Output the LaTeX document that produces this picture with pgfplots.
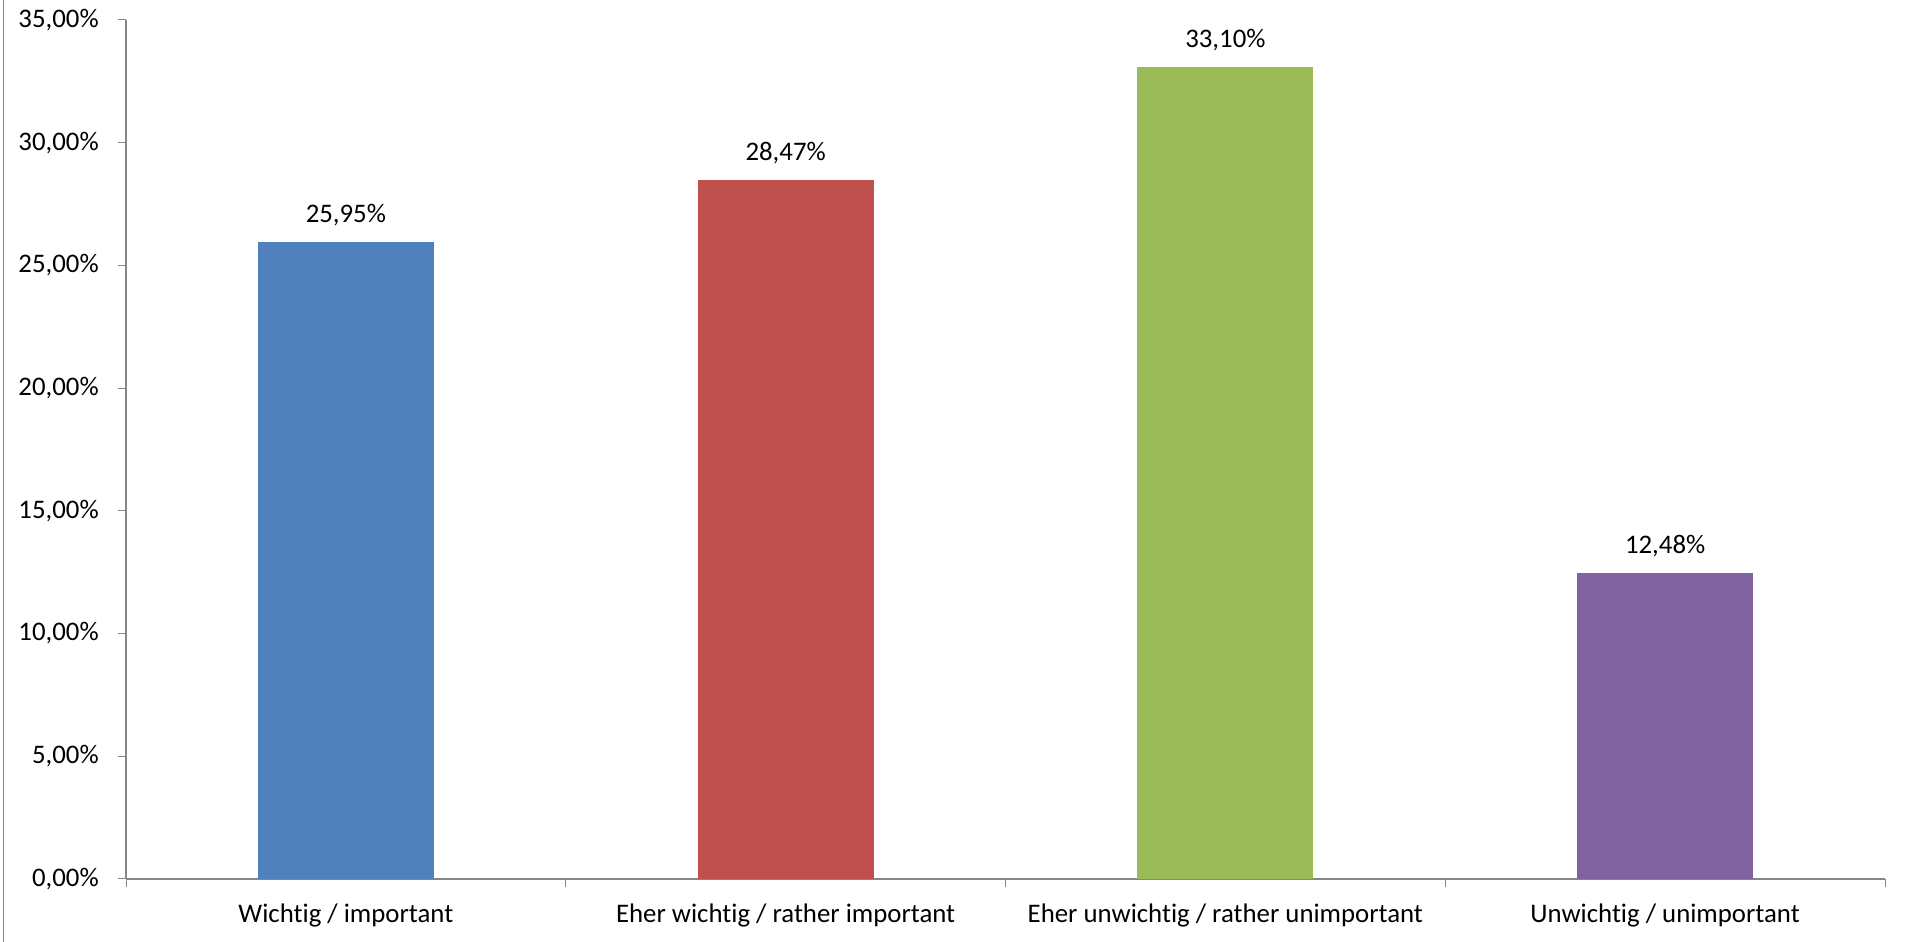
\documentclass[border=0pt]{standalone}
\usepackage{pgfplots}
\pgfplotsset{compat=1.18}
\usepackage{fontspec}
\setmainfont[RawFeature={-liga;-calt;-clig;-dlig}]{Carlito}
\definecolor{cA}{HTML}{4F81BD}
\definecolor{cB}{HTML}{C0504D}
\definecolor{cC}{HTML}{9BBB59}
\definecolor{cD}{HTML}{8064A2}
\definecolor{axisgray}{HTML}{868686}
\begin{document}
\fontsize{13.4pt}{15pt}\selectfont
\begin{tikzpicture}
\useasboundingbox (0,0) rectangle (956.5pt,471pt);
\draw[axisgray, line width=0.7pt] (1.6pt,0) -- (1.6pt,471pt);
\begin{axis}[
  at={(63pt,31.5pt)}, anchor=south west,
  scale only axis, width=879.5pt, height=429.5pt,
  xmin=-0.5, xmax=3.5, ymin=0, ymax=35,
  axis x line*=bottom, axis y line*=left,
  x axis line style={-}, y axis line style={-},
  axis line style={axisgray, line width=0.6pt},
  ybar, bar width=88pt, bar shift=0pt,
  ytick={0,5,...,35},
  yticklabels={{0,00\%},{5,00\%},{10,00\%},{15,00\%},{20,00\%},{25,00\%},{30,00\%},{35,00\%}},
  xtick={0,1,2,3},
  xticklabels={Wichtig / important, Eher wichtig / rather important, Eher unwichtig / rather unimportant, Unwichtig / unimportant},
  minor xtick={-0.5,0.5,1.5,2.5,3.5},
  tick align=outside, major tick length=4pt, minor tick length=4pt,
  major x tick style={draw=none},
  tick style={axisgray, line width=0.5pt},
  minor x tick style={axisgray, line width=0.5pt},
  ticklabel style={font=\fontsize{13.4pt}{15pt}\selectfont, text=black},
  xticklabel style={yshift=-3.7pt},
  yticklabel style={xshift=-5pt},
  /pgf/number format/assume math mode=true,
  nodes near coords={\pgfmathprintnumber[fixed,fixed zerofill,precision=2,use comma]{\pgfplotspointmeta}\%},
  every node near coord/.append style={font=\fontsize{13.4pt}{15pt}\selectfont, text=black, anchor=base, yshift=9.7pt, inner sep=0pt},
  point meta=y,
]
\addplot[draw=none, fill=cA] coordinates {(0,25.95)};
\addplot[draw=none, fill=cB] coordinates {(1,28.47)};
\addplot[draw=none, fill=cC] coordinates {(2,33.10)};
\addplot[draw=none, fill=cD] coordinates {(3,12.48)};
\end{axis}
\end{tikzpicture}
\end{document}
